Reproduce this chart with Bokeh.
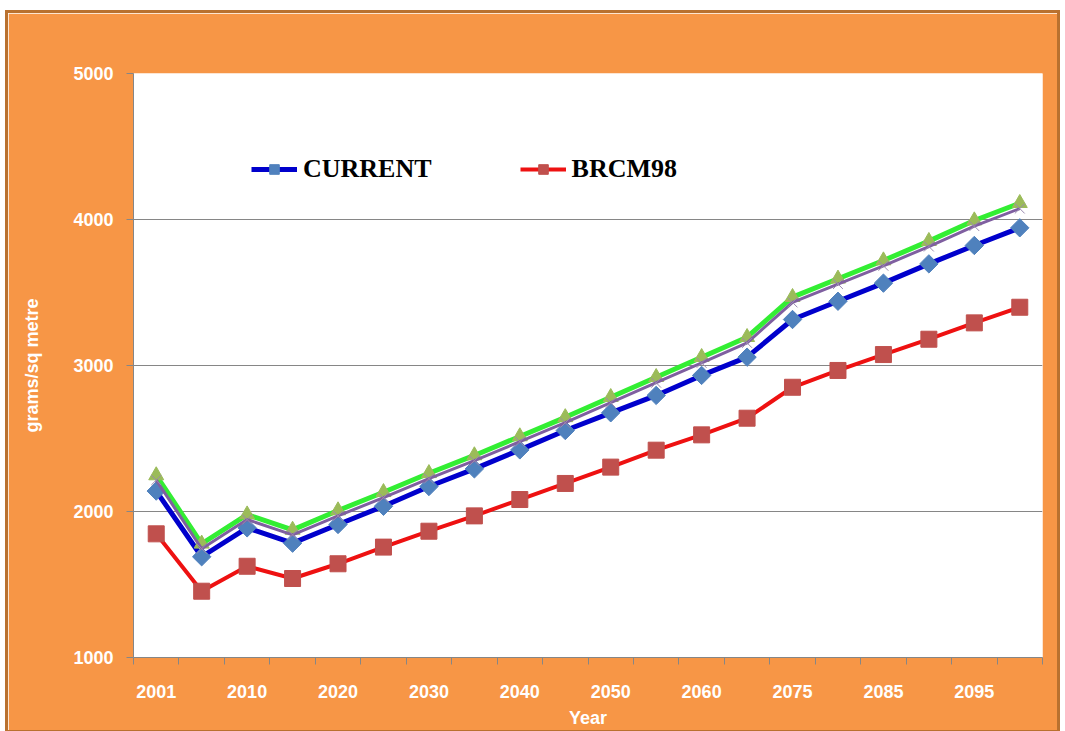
from bokeh.plotting import figure
from bokeh.models import Range1d, FixedTicker, Legend, LegendItem
from bokeh.embed import file_html
from bokeh.resources import INLINE
import math

years = ["2001", "2005", "2010", "2015", "2020", "2025", "2030", "2035", "2040", "2045",
         "2050", "2055", "2060", "2065", "2075", "2080", "2085", "2090", "2095", "2100"]
shown_labels = ["2001", "2010", "2020", "2030", "2040", "2050", "2060", "2075", "2085", "2095"]

current = [2140, 1690, 1888, 1783, 1911, 2036, 2171, 2292, 2422, 2555,
           2676, 2795, 2932, 3057, 3315, 3440, 3564, 3696, 3822, 3943]
brcm98 = [1847, 1454, 1625, 1541, 1642, 1756, 1865, 1970, 2082, 2192,
          2304, 2420, 2525, 2639, 2851, 2966, 3075, 3180, 3292, 3399]
series3 = [2247, 1779, 1979, 1874, 2007, 2132, 2262, 2384, 2514, 2645,
           2783, 2920, 3057, 3194, 3468, 3594, 3719, 3852, 3993, 4112]
series4 = [2215, 1745, 1945, 1840, 1970, 2095, 2225, 2348, 2478, 2608,
           2745, 2882, 3018, 3155, 3432, 3558, 3683, 3815, 3955, 4075]

y_ticks = [1000, 2000, 3000, 4000, 5000]

xs = [i + 0.5 for i in range(len(years))]

ORANGE = "#F79646"
GREY = "#868686"

p = figure(width=1055, height=723, output_backend="svg", toolbar_location=None,
           x_range=Range1d(0, len(years)), y_range=Range1d(1000, 5000),
           min_border_left=125, min_border_top=60, min_border_right=21, min_border_bottom=79,
           background_fill_color="white", border_fill_color=ORANGE)
p.styles = {"border": "3px solid #B9712F"}
p.margin = (10, 0, 0, 5)
p.outline_line_color = None

# axes
major = [xs[years.index(l)] for l in shown_labels]
p.xaxis.ticker = FixedTicker(ticks=major, minor_ticks=list(range(len(years) + 1)))
p.xaxis.major_label_overrides = {xs[years.index(l)]: l for l in shown_labels}
p.xaxis.major_tick_line_color = None
p.xaxis.minor_tick_line_color = GREY
p.xaxis.minor_tick_out = 7
p.xaxis.minor_tick_in = 0
p.xaxis.axis_line_color = GREY
p.xaxis.major_label_standoff = 20
p.xaxis.axis_label = "Year"
p.xaxis.axis_label_standoff = 7

p.yaxis.ticker = FixedTicker(ticks=y_ticks)
p.yaxis.major_tick_line_color = GREY
p.yaxis.major_tick_out = 7
p.yaxis.major_tick_in = 0
p.yaxis.minor_tick_line_color = None
p.yaxis.axis_line_color = GREY
p.yaxis.major_label_standoff = 13
p.yaxis.axis_label = "grams/sq metre"
p.yaxis.axis_label_standoff = 28

for ax in (p.xaxis, p.yaxis):
    ax.major_label_text_color = "white"
    ax.major_label_text_font = "Liberation Sans"
    ax.major_label_text_font_style = "bold"
    ax.major_label_text_font_size = "18px"
    ax.axis_label_text_color = "white"
    ax.axis_label_text_font = "Liberation Sans"
    ax.axis_label_text_font_style = "bold"
    ax.axis_label_text_font_size = "18px"

p.xgrid.grid_line_color = None
p.ygrid.grid_line_color = GREY
p.ygrid.grid_line_width = 1

# series
l1 = p.line(xs, current, line_color="#0000CC", line_width=5)
m1 = p.scatter(xs, current, marker="square", angle=math.pi / 4, size=13,
               fill_color="#4F81BD", line_color="#4F81BD")
l2 = p.line(xs, brcm98, line_color="#EE1111", line_width=4)
m2 = p.scatter(xs, brcm98, marker="square", size=16,
               fill_color="#C0504D", line_color="#C0504D")
l3 = p.line(xs, series3, line_color="#33EE33", line_width=5)
m3 = p.scatter(xs, series3, marker="triangle", size=15,
               fill_color="#9BBB59", line_color="#9BBB59")
l4 = p.line(xs, series4, line_color="#7F5FA0", line_width=3)
m4 = p.scatter(xs, series4, marker="x", size=14,
               line_color="#9A8AAE", line_width=1)

legend = Legend(items=[LegendItem(label="CURRENT", renderers=[l1, m1]),
                       LegendItem(label="BRCM98", renderers=[l2, m2])],
                orientation="horizontal", location=(118, 473),
                padding=0, margin=0, spacing=88, label_standoff=6,
                glyph_width=46, glyph_height=24,
                label_text_font="Liberation Serif", label_text_font_style="bold",
                label_text_font_size="26px", label_text_color="black",
                border_line_color=None, background_fill_color="white",
                background_fill_alpha=1.0)
p.add_layout(legend, "center")

open("out.html", "w").write(file_html(p, INLINE))
